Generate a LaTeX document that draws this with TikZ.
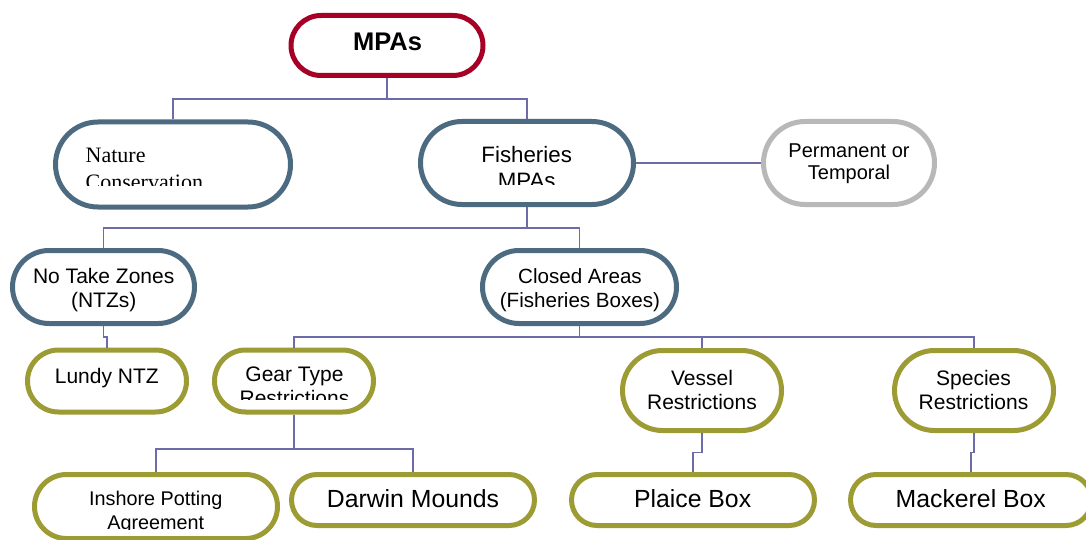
\documentclass[tikz,border=0pt]{standalone}
\usepackage{fontspec}
\setmainfont{Liberation Sans}
\newfontfamily\timesf{Liberation Serif}
\usetikzlibrary{shapes.misc}
\definecolor{cred}{RGB}{166,0,38}
\definecolor{cblue}{RGB}{76,106,128}
\definecolor{cgray}{RGB}{184,184,184}
\definecolor{colive}{RGB}{156,155,52}
\definecolor{connc}{RGB}{110,108,168}
\newcommand\fsz[2]{\fontsize{#1}{#2}\selectfont}
\tikzset{
  box/.style={rounded rectangle, draw, line width=5pt, inner sep=0pt, fill=none},
  conn/.style={draw=connc, line width=1.4pt},
  txt/.style={inner sep=0pt, align=center, text=black},
}
\begin{document}
\begin{tikzpicture}[x=1pt,y=-1pt]
\clip (0,0) rectangle (1086,540);
\fill[white] (0,0) rectangle (1086,540);

% shapes
\node[box, draw=cred,   minimum width=192pt, minimum height=60pt] (mpas) at (387,45.5) {};
\node[box, draw=cblue,  minimum width=235pt, minimum height=85pt] (nat) at (173,164.5) {};
\node[box, draw=cblue,  minimum width=213pt, minimum height=83pt] (fish) at (527,163) {};
\node[box, draw=cgray,  minimum width=171pt, minimum height=83pt] (perm) at (849,163) {};
\node[box, draw=cblue,  minimum width=182pt, minimum height=73pt] (ntz) at (103.5,287) {};
\node[box, draw=cblue,  minimum width=194pt, minimum height=73pt] (closed) at (579.5,287) {};
\node[box, draw=colive, minimum width=159pt, minimum height=62pt] (lundy) at (107,381) {};
\node[box, draw=colive, minimum width=159pt, minimum height=62pt] (gear) at (294,381) {};
\node[box, draw=colive, minimum width=159pt, minimum height=80pt] (vessel) at (702,390.5) {};
\node[box, draw=colive, minimum width=159pt, minimum height=80pt] (species) at (974,390.5) {};
\node[box, draw=colive, minimum width=243pt, minimum height=64pt] (inshore) at (156,506.5) {};
\node[box, draw=colive, minimum width=243pt, minimum height=51pt] (darwin) at (413,500) {};
\node[box, draw=colive, minimum width=243pt, minimum height=51pt] (plaice) at (693,500) {};
\node[box, draw=colive, minimum width=241pt, minimum height=51pt] (mackerel) at (971,500) {};

% connectors
\coordinate (b1) at (387,99);
\coordinate (b2) at (527,228);
\coordinate (b3) at (579.5,337);
\coordinate (b4) at (294,449);
\draw[conn] (mpas.south) -- (b1);
\draw[conn] (nat.north) |- (b1);
\draw[conn] (fish.north) |- (b1);
\draw[conn] (fish.east) -- (perm.west);
\draw[conn] (fish.south) -- (b2);
\draw[conn] (ntz.north) |- (b2);
\draw[conn] (closed.north) |- (b2);
\draw[conn] (ntz.south) -- ++(0,11) -| (lundy.north);
\draw[conn] (closed.south) -- (b3);
\draw[conn] (gear.north) |- (b3);
\draw[conn] (vessel.north) |- (b3);
\draw[conn] (species.north) |- (b3);
\draw[conn] (gear.south) -- (b4);
\draw[conn] (inshore.north) |- (b4);
\draw[conn] (darwin.north) |- (b4);
\draw[conn] (vessel.south) -- ++(0,19.5) -| (plaice.north);
\draw[conn] (species.south) -- ++(0,19.5) -| (mackerel.north);

% texts
\node[txt, font=\fsz{25.5}{30}\bfseries] (mpas-t) at (387.5,41.8) {MPAs};
\begin{scope}
  \clip (60,130) rectangle (290,186);
  \node[txt, align=left, anchor=west, font=\timesf\fsz{22}{27}] (nat-t) at (85.5,169.3) {Nature\\Conservation};
\end{scope}
\begin{scope}
  \clip (430,130) rectangle (630,184.5);
  \node[txt, font=\fsz{22.3}{25.3}] (fish-t) at (526.7,167.4) {Fisheries\\MPAs};
\end{scope}
\node[txt, font=\fsz{20}{22.7}] (perm-t) at (849,163.6) {Permanent or\\Temporal};
\node[txt, font=\fsz{21}{23.3}] (ntz-t) at (103.7,290.2) {No Take Zones\\(NTZs)};
\node[txt, font=\fsz{20.6}{24}] (closed-t) at (580,290.5) {Closed Areas\\(Fisheries Boxes)};
\node[txt, font=\fsz{21}{24}] (lundy-t) at (106.8,377.9) {Lundy NTZ};
\begin{scope}
  \clip (215,355) rectangle (375,399.5);
  \node[txt, font=\fsz{21}{24}] (gear-t) at (294.5,386) {Gear Type\\Restrictions};
\end{scope}
\node[txt, font=\fsz{21}{23.6}] (vessel-t) at (702,389.9) {Vessel\\Restrictions};
\node[txt, font=\fsz{21}{23.6}] (species-t) at (973.5,390) {Species\\Restrictions};
\begin{scope}
  \clip (40,480) rectangle (275,529.5);
  \node[txt, font=\fsz{19.8}{24}] (inshore-t) at (155.8,512.8) {Inshore Potting\\Agreement};
\end{scope}
\node[txt, font=\fsz{24.8}{29}] (darwin-t) at (413,499) {Darwin Mounds};
\node[txt, font=\fsz{24.8}{29}] (plaice-t) at (692.6,499) {Plaice Box};
\node[txt, font=\fsz{24.8}{29}] (mackerel-t) at (970.8,499) {Mackerel Box};
\end{tikzpicture}
\end{document}
